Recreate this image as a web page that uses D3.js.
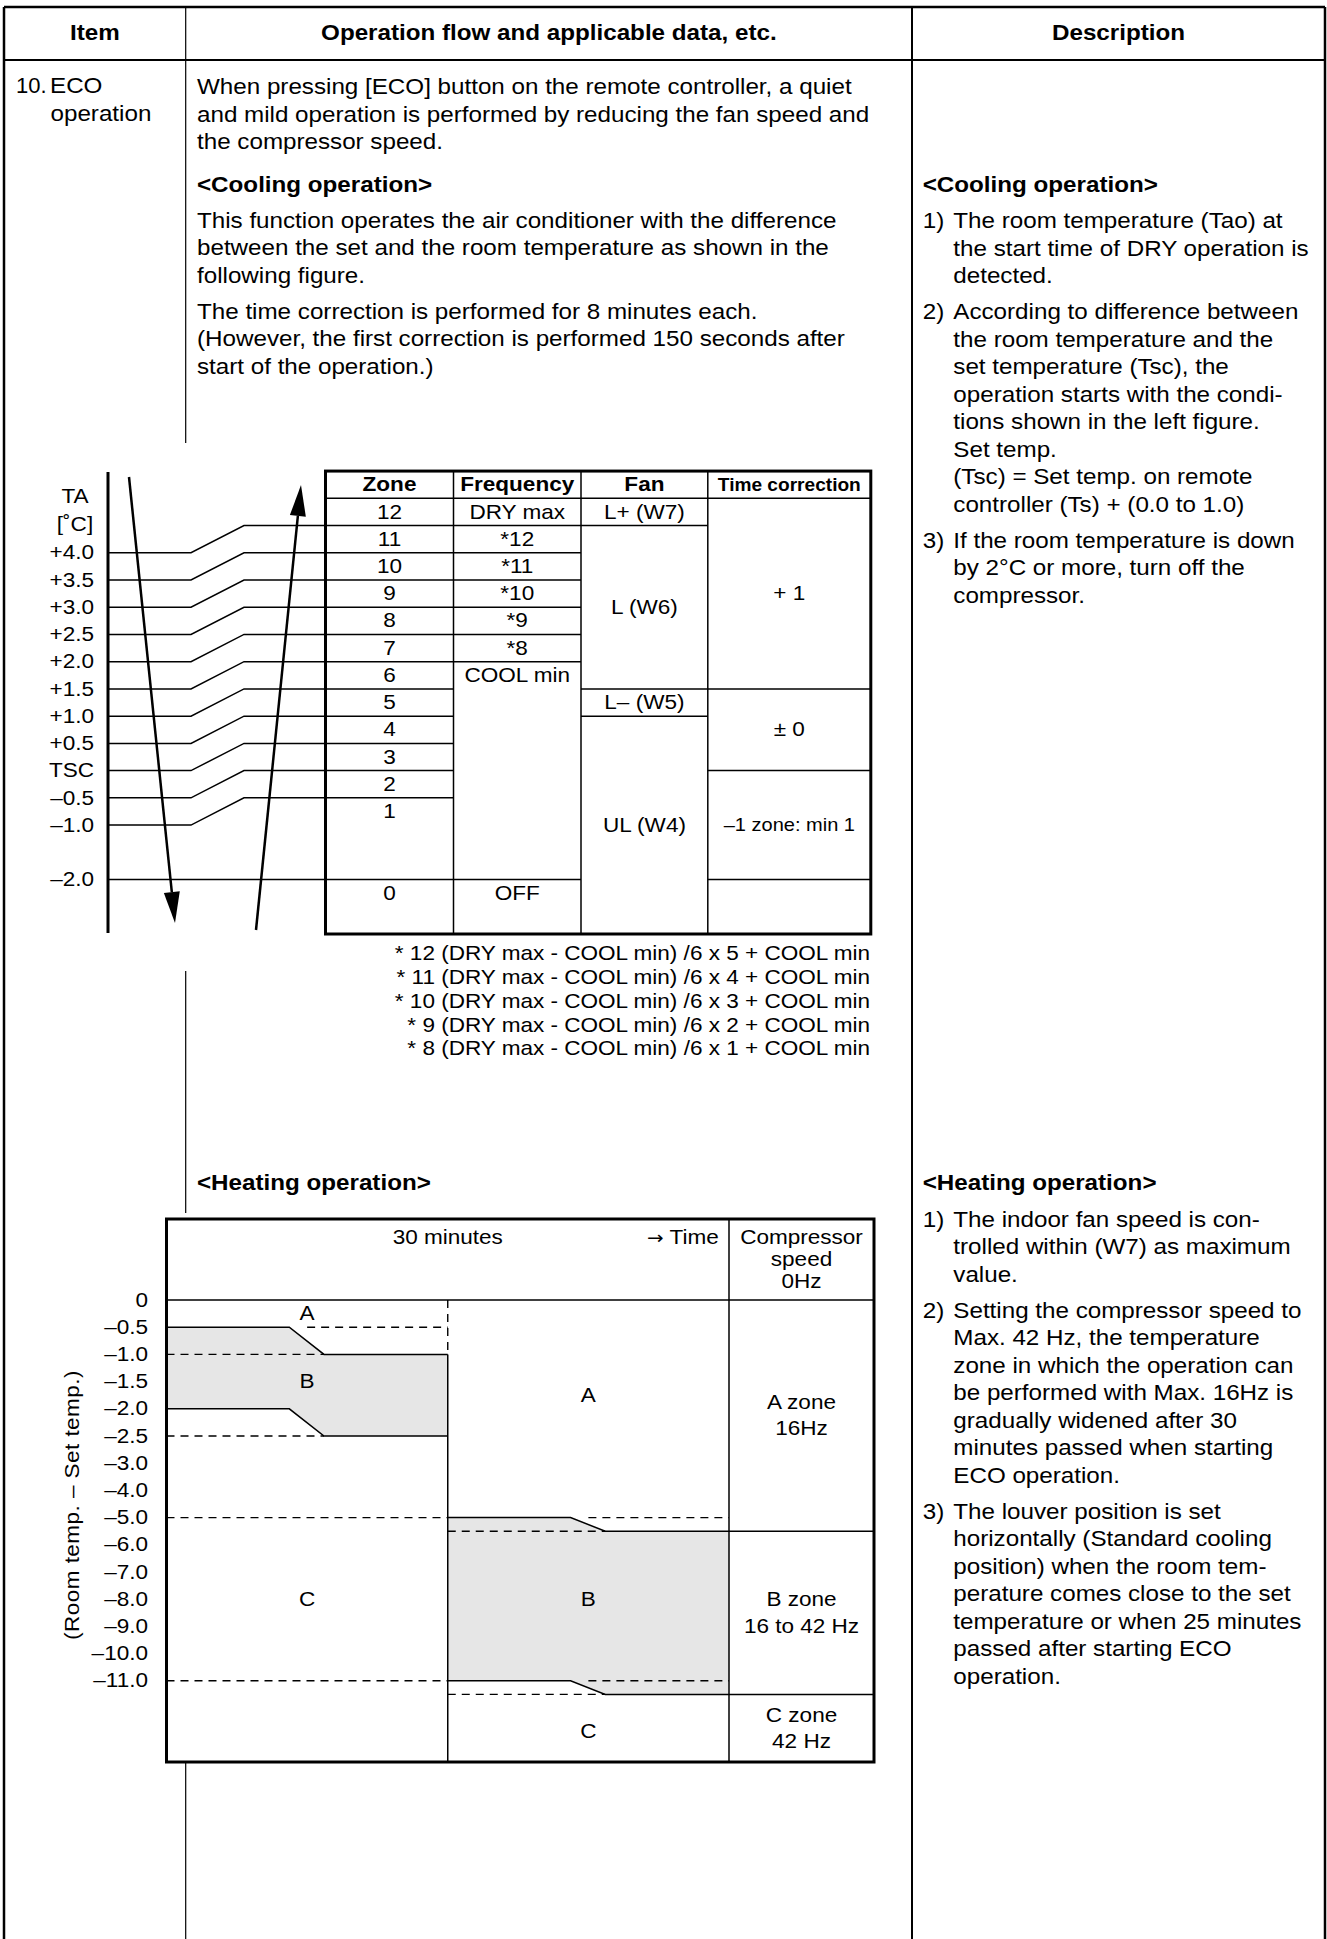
<!DOCTYPE html>
<html>
<head>
<meta charset="utf-8">
<script src="https://cdn.jsdelivr.net/npm/d3@7"></script>
<style>
  body { margin: 0; background: #fff; }
  svg { display: block; }
  text { font-family: "Liberation Sans", Arial, Helvetica, sans-serif; fill: #000; }
</style>
</head>
<body>
<div id="chart"></div>
<script>
// ---- page text ----
const headers = ["Item", "Operation flow and applicable data, etc.", "Description"];
const introText = [
  ["When pressing [ECO] button on the remote controller, a quiet",
   "and mild operation is performed by reducing the fan speed and",
   "the compressor speed."]
];
const coolTitle = "<Cooling operation>";
const coolText = [
  ["This function operates the air conditioner with the difference",
   "between the set and the room temperature as shown in the",
   "following figure."],
  ["The time correction is performed for 8 minutes each.",
   "(However, the first correction is performed 150 seconds after",
   "start of the operation.)"]
];
const coolNotes = [
  ["The room temperature (Tao) at", "the start time of DRY operation is", "detected."],
  ["According to difference between", "the room temperature and the", "set temperature (Tsc), the",
   "operation starts with the condi-", "tions shown in the left figure.", "Set temp.",
   "(Tsc) = Set temp. on remote", "controller (Ts) + (0.0 to 1.0)"],
  ["If the room temperature is down", "by 2°C or more, turn off the", "compressor."]
];
const heatTitle = "<Heating operation>";
const heatNotes = [
  ["The indoor fan speed is con-", "trolled within (W7) as maximum", "value."],
  ["Setting the compressor speed to", "Max. 42 Hz, the temperature", "zone in which the operation can",
   "be performed with Max. 16Hz is", "gradually widened after 30", "minutes passed when starting",
   "ECO operation."],
  ["The louver position is set", "horizontally (Standard cooling", "position) when the room tem-",
   "perature comes close to the set", "temperature or when 25 minutes", "passed after starting ECO",
   "operation."]
];

// ---- cooling figure data ----
const taLabels = ["+4.0", "+3.5", "+3.0", "+2.5", "+2.0", "+1.5", "+1.0", "+0.5", "TSC", "–0.5", "–1.0", "–2.0"];
const taValues = [4.0, 3.5, 3.0, 2.5, 2.0, 1.5, 1.0, 0.5, 0, -0.5, -1.0, -2.0];
const taLinks  = [4.5, 4.0, 3.5, 3.0, 2.5, 2.0, 1.5, 1.0, 0.5, 0, -0.5, -2.0];   // table edge each level feeds
const zoneEdges = [5.0, 4.5, 4.0, 3.5, 3.0, 2.5, 2.0, 1.5, 1.0, 0.5, 0, -0.5, -2.0, -3.0];
const zones = ["12", "11", "10", "9", "8", "7", "6", "5", "4", "3", "2", "1", "0"];
const tableCols = ["Zone", "Frequency", "Fan", "Time correction"];
const freqLabels = ["DRY max", "*12", "*11", "*10", "*9", "*8", "COOL min", "OFF"];
const freqSpans = [1, 1, 1, 1, 1, 1, 6, 1];
const fanLabels = ["L+ (W7)", "L (W6)", "L– (W5)", "UL (W4)"];
const fanSpans = [1, 6, 1, 5];
const timeLabels = ["+ 1", "± 0", "–1 zone: min 1", ""];
const timeSpans = [7, 3, 2, 1];
const footnotes = [
  "* 12 (DRY max - COOL min) /6 x 5 + COOL min",
  "* 11 (DRY max - COOL min) /6 x 4 + COOL min",
  "* 10 (DRY max - COOL min) /6 x 3 + COOL min",
  "* 9 (DRY max - COOL min) /6 x 2 + COOL min",
  "* 8 (DRY max - COOL min) /6 x 1 + COOL min"
];

// ---- heating figure data ----
const heatTicks = [0, -0.5, -1.0, -1.5, -2.0, -2.5, -3.0, -4.0, -5.0, -6.0, -7.0, -8.0, -9.0, -10.0, -11.0];
const heatTickLabels = ["0", "–0.5", "–1.0", "–1.5", "–2.0", "–2.5", "–3.0", "–4.0", "–5.0", "–6.0", "–7.0", "–8.0", "–9.0", "–10.0", "–11.0"];
// B zone per 30-minute half: limits before / after the step (°C), step time (min)
const heatBands = [
  {from: 0,  to: 30, s0: 13.1, s1: 16.8, top: [-0.5, -1.0], bottom: [-2.0, -2.5]},
  {from: 30, to: 60, s0: 43.1, s1: 46.8, top: [-5.0, -5.5], bottom: [-11.0, -11.5]}
];
// dashed reference levels: [from min, to min, °C]
const heatDashes = [
  [15, 30, -0.5], [0, 16.8, -1.0], [0, 16.8, -2.5],
  [0, 30, -5.0], [45, 60, -5.0], [30, 46.8, -5.5],
  [0, 30, -11.0], [45, 60, -11.0], [30, 46.8, -11.5]
];
const regionLabels = [
  ["A", 15, -0.25], ["B", 15, -1.5], ["C", 15, -8.0],
  ["A", 45, -1.75], ["B", 45, -8.0], ["C", 45, -12.85]
];
const zoneNames = [["A zone", "16Hz"], ["B zone", "16 to 42 Hz"], ["C zone", "42 Hz"]];
const compHeader = ["Compressor", "speed", "0Hz"];

// ---- drawing ----
const W = 1327, H = 1939;
const svg = d3.select("#chart").append("svg").attr("width", W).attr("height", H);
svg.append("rect").attr("width", W).attr("height", H).attr("fill", "#fff");

const SX = 1.1;
function txt(g, x, y, s, o = {}) {
  return g.append("text")
    .attr("transform", `translate(${x},${y})${o.rot ? ` rotate(${o.rot})` : ""} scale(${o.sx || SX},1)`)
    .attr("text-anchor", o.anchor || "start")
    .attr("dominant-baseline", o.mid ? "central" : null)
    .style("font-size", (o.size || 22) + "px")
    .style("font-weight", o.bold ? "bold" : null)
    .text(s);
}
function line(g, pts, o = {}) {
  return g.append("path")
    .attr("d", d3.line()(pts))
    .attr("fill", "none")
    .attr("stroke", "#000")
    .attr("stroke-width", o.w || 1.5)
    .attr("stroke-dasharray", o.dash || null);
}

// page frame
const page = svg.append("g");
const colX = [4, 185.7, 912, 1325];
line(page, [[4, 7], [1325, 7]], {w: 2.5});
line(page, [[4, 60], [1325, 60]], {w: 2});
line(page, [[4, 7], [4, H]], {w: 2.5});
line(page, [[1325, 7], [1325, H]], {w: 2.5});
line(page, [[912, 7], [912, H]], {w: 2});
[[7, 443], [971, 1213], [1762, H]].forEach(s => line(page, [[185.7, s[0]], [185.7, s[1]]], {w: 1.2}));
headers.forEach((h, i) => txt(page, (colX[i] + colX[i + 1]) / 2, 40, h, {anchor: "middle", bold: true}));

txt(page, 16, 93, "10.", {sx: 1.0});
txt(page, 50, 93, "ECO");
txt(page, 50.5, 121, "operation");

const LH = 27.5, PGAP = 8.5;
function block(g, x, y, paras, numbered) {
  paras.forEach((p, pi) => {
    if (numbered) txt(g, x, y, (pi + 1) + ")");
    p.forEach(l => { txt(g, numbered ? x + 30.6 : x, y, l); y += LH; });
    y += PGAP;
  });
}
block(page, 197, 94, introText);
txt(page, 197, 191.7, coolTitle, {bold: true});
block(page, 197, 227.7, coolText);
txt(page, 922.7, 191.7, coolTitle, {bold: true});
block(page, 922.7, 228, coolNotes, true);
txt(page, 197, 1190, heatTitle, {bold: true});
txt(page, 922.7, 1190, heatTitle, {bold: true});
block(page, 922.7, 1226.5, heatNotes, true);

// ---- cooling figure ----
const fig1 = svg.append("g");
const FS = 20.5;
const yC = d3.scaleLinear().domain([5, -3]).range([498.3, 934]);
const rowH = yC(4.5) - yC(5);
const axisX = 108, kinkX0 = 191, kinkX1 = 244;
const tabX = [325.5, 453.5, 581, 707.8, 870.8];

line(fig1, [[axisX, 472], [axisX, 933]], {w: 3});
txt(fig1, 75, yC(5.03), "TA", {anchor: "middle", mid: true, size: FS});
txt(fig1, 75, yC(4.52), "[˚C]", {anchor: "middle", mid: true, size: FS});
taValues.forEach((t, i) => {
  line(fig1, [[axisX, yC(t)], [kinkX0, yC(t)], [kinkX1, yC(taLinks[i])], [tabX[0], yC(taLinks[i])]]);
  txt(fig1, 94, yC(t), taLabels[i], {anchor: "end", mid: true, size: FS});
});

function arrow(g, x1, y1, x2, y2) {
  const a = Math.atan2(y2 - y1, x2 - x1), L = 31, hw = 8;
  const bx = x2 - L * Math.cos(a), by = y2 - L * Math.sin(a);
  line(g, [[x1, y1], [bx, by]], {w: 2.5});
  g.append("path")
    .attr("d", `M${x2},${y2}L${bx - hw * Math.sin(a)},${by + hw * Math.cos(a)}L${bx + hw * Math.sin(a)},${by - hw * Math.cos(a)}Z`)
    .attr("fill", "#000");
}
arrow(fig1, 129, 477, 175, 923);
arrow(fig1, 256, 930, 301, 485);

// table
const tTop = yC(5.5), tBot = yC(-3);
const cols = [
  {labels: zones, spans: zones.map(() => 1), align: "top"},
  {labels: freqLabels, spans: freqSpans, align: "top"},
  {labels: fanLabels, spans: fanSpans, align: "mid"},
  {labels: timeLabels, spans: timeSpans, align: "mid"}
];
cols.forEach((c, ci) => {
  const cx = (tabX[ci] + tabX[ci + 1]) / 2;
  txt(fig1, cx, (tTop + yC(5)) / 2, tableCols[ci], {anchor: "middle", mid: true, bold: true, size: ci === 3 ? 18.2 : FS, sx: ci === 3 ? 1.05 : SX});
  let r = 0;
  c.labels.forEach((lab, k) => {
    const top = zoneEdges[r], bot = zoneEdges[r + c.spans[k]];
    r += c.spans[k];
    const cy = c.align === "top" ? yC(top) + rowH / 2 : (yC(top) + yC(bot)) / 2;
    txt(fig1, cx, cy, lab, {anchor: "middle", mid: true, size: lab.length > 10 ? 18.2 : FS});
    if (r < zones.length) line(fig1, [[tabX[ci], yC(bot)], [tabX[ci + 1], yC(bot)]]);
  });
  if (ci > 0) line(fig1, [[tabX[ci], tTop], [tabX[ci], tBot]]);
});
line(fig1, [[tabX[0], yC(5)], [tabX[4], yC(5)]]);
fig1.append("rect").attr("x", tabX[0]).attr("y", tTop)
  .attr("width", tabX[4] - tabX[0]).attr("height", tBot - tTop)
  .attr("fill", "none").attr("stroke", "#000").attr("stroke-width", 3);

footnotes.forEach((f, i) => txt(fig1, 870, 953.5 + i * 23.8, f, {anchor: "end", mid: true, size: FS}));

// ---- heating figure ----
const fig2 = svg.append("g");
const step = 27.2;
const yH = d3.scaleLinear().domain([0, -3, -11]).range([1300, 1300 + 6 * step, 1300 + 14 * step]);
const xH = d3.scaleLinear().domain([0, 60]).range([166.5, 729]);
const boxL = xH(0), boxR = 874, boxT = 1219, boxB = 1762;

heatBands.forEach(b => {
  const poly = [
    [xH(b.from), yH(b.top[0])], [xH(b.s0), yH(b.top[0])], [xH(b.s1), yH(b.top[1])], [xH(b.to), yH(b.top[1])],
    [xH(b.to), yH(b.bottom[1])], [xH(b.s1), yH(b.bottom[1])], [xH(b.s0), yH(b.bottom[0])], [xH(b.from), yH(b.bottom[0])]
  ];
  fig2.append("path").attr("d", d3.line()(poly) + "Z").attr("fill", "#e6e6e6");
});
heatDashes.forEach(d => line(fig2, [[xH(d[0]), yH(d[2])], [xH(d[1]), yH(d[2])]], {w: 1.4, dash: "8,6"}));
heatBands.forEach((b, i) => {
  const end = i === heatBands.length - 1 ? boxR : xH(b.to);
  ["top", "bottom"].forEach(k => {
    line(fig2, [[xH(b.from), yH(b[k][0])], [xH(b.s0), yH(b[k][0])], [xH(b.s1), yH(b[k][1])], [end, yH(b[k][1])]]);
  });
});
line(fig2, [[xH(30), yH(0)], [xH(30), yH(-1.0)]], {w: 1.4, dash: "8,6"});
line(fig2, [[xH(30), yH(-1.0)], [xH(30), boxB]]);
line(fig2, [[xH(60), boxT], [xH(60), boxB]]);
line(fig2, [[boxL, yH(0)], [boxR, yH(0)]]);
fig2.append("rect").attr("x", boxL).attr("y", boxT)
  .attr("width", boxR - boxL).attr("height", boxB - boxT)
  .attr("fill", "none").attr("stroke", "#000").attr("stroke-width", 3);

heatTicks.forEach((t, i) => txt(fig2, 148, yH(t), heatTickLabels[i], {anchor: "end", mid: true, size: FS}));
txt(fig2, 72, 1505, "(Room temp. – Set temp.)", {anchor: "middle", mid: true, rot: -90, size: 20.5})
  .style("letter-spacing", "0.4px");

txt(fig2, xH(30), 1237, "30 minutes", {anchor: "middle", mid: true, size: FS});
const timeLbl = txt(fig2, 718.7, 1237, "", {anchor: "end", mid: true, size: FS});
timeLbl.append("tspan").style("font-family", "'DejaVu Sans'").style("font-size", "18px").text("→");
timeLbl.append("tspan").text(" Time");
const rcx = (xH(60) + boxR) / 2;
compHeader.forEach((s, i) => txt(fig2, rcx, 1237 + i * 22.3, s, {anchor: "middle", mid: true, size: FS}));

regionLabels.forEach(r => txt(fig2, xH(r[1]), yH(r[2]), r[0], {anchor: "middle", mid: true, size: FS}));

const zoneBounds = [yH(0), yH(-5.5), yH(-11.5), boxB];
zoneNames.forEach((z, i) => {
  const cy = (zoneBounds[i] + zoneBounds[i + 1]) / 2;
  txt(fig2, rcx, cy - 13.2, z[0], {anchor: "middle", mid: true, size: FS});
  txt(fig2, rcx, cy + 13.2, z[1], {anchor: "middle", mid: true, size: FS});
});
</script>
</body>
</html>
